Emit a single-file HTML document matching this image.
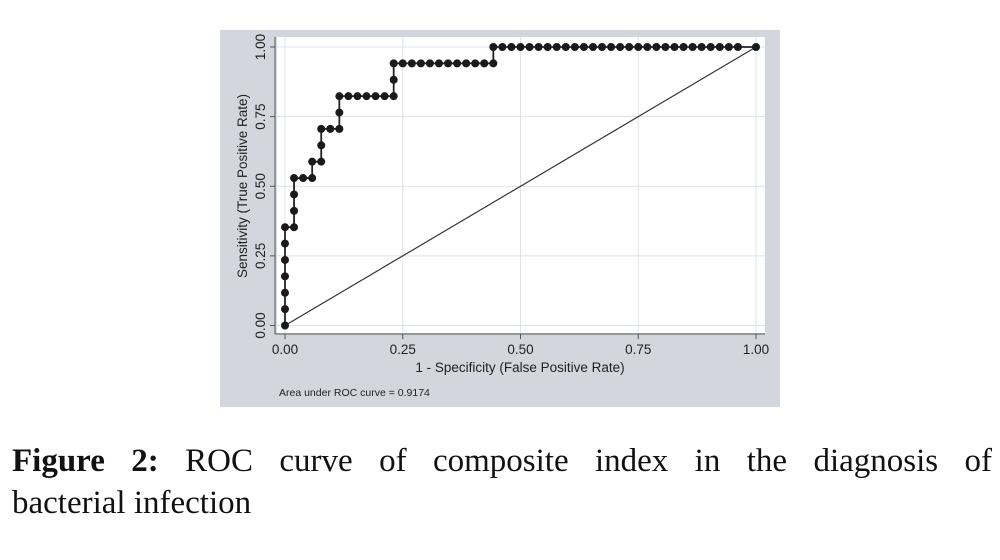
<!DOCTYPE html>
<html><head><meta charset="utf-8"><style>
body{margin:0;background:#fff;width:1000px;height:560px;overflow:hidden;position:relative}
.cap{position:absolute;left:12px;width:980px;font-family:"Liberation Serif",serif;font-size:33px;line-height:42px;color:#111;white-space:nowrap}
#cap1{top:440px;text-align:justify;text-align-last:justify}
#cap2{top:482px}
</style></head><body>
<svg width="1000" height="420" style="position:absolute;left:0;top:0" font-family="Liberation Sans, sans-serif">
<rect x="220" y="30" width="560" height="377" fill="#d3d6dc"/>
<rect x="277" y="37" width="488" height="296" fill="#fff"/>
<g id="grid"></g>
<line x1="275" y1="37" x2="275" y2="334" stroke="#555" stroke-width="1"/>
<line x1="275" y1="334" x2="765" y2="334" stroke="#555" stroke-width="1"/>
<g id="ticks"></g>
<text x="520" y="372" font-size="13.5" text-anchor="middle" fill="#222">1 - Specificity (False Positive Rate)</text>
<text transform="translate(247,186) rotate(-90)" font-size="13.5" text-anchor="middle" fill="#222">Sensitivity (True Positive Rate)</text>
<text x="279" y="396" font-size="10.5" fill="#222">Area under ROC curve = 0.9174</text>
<g id="diag"></g>
<g id="roc"></g>
</svg>
<div id="cap1" class="cap"><b style="font-weight:600">Figure 2:</b> ROC curve of composite index in the diagnosis of</div>
<div id="cap2" class="cap">bacterial infection</div>
<script>
const fpCounts=[0,0,0,0,0,0,0,1,1,1,1,2,3,3,4,4,4,5,6,6,6,7,8,9,10,11,12,12,12,13,14,15,16,17,18,19,20,21,22,23,23,24,25,26,27,28,29,30,31,32,33,34,35,36,37,38,39,40,41,42,43,44,45,46,47,48,49,50,52];
const tpCounts=[0,1,2,3,4,5,6,6,7,8,9,9,9,10,10,11,12,12,12,13,14,14,14,14,14,14,14,15,16,16,16,16,16,16,16,16,16,16,16,16,17,17,17,17,17,17,17,17,17,17,17,17,17,17,17,17,17,17,17,17,17,17,17,17,17,17,17,17,17];
const nNeg=52,nPos=17;
const ticks=[0,0.25,0.5,0.75,1];
const tickLabels=["0.00","0.25","0.50","0.75","1.00"];
const X=v=>285+v*471, Y=v=>325.5-v*278.5;
const NS="http://www.w3.org/2000/svg";
function mk(t,a,p){const e=document.createElementNS(NS,t);for(const k in a)e.setAttribute(k,a[k]);p.appendChild(e);return e;}
const grid=document.getElementById('grid'),tk=document.getElementById('ticks');
ticks.forEach((t,i)=>{
 let g1=mk('line',{x1:X(t),x2:X(t),y1:37,y2:333,stroke:'#dde3ec','stroke-width':1},grid);
 
 
 let g2=mk('line',{x1:277,x2:765,y1:Y(t),y2:Y(t),stroke:'#dde3ec','stroke-width':1},grid);
 
 
 let a=mk('line',{x1:X(t),x2:X(t),y1:334,y2:339,stroke:'#555'},tk);
 
 
 let b=mk('line',{x1:270,x2:275,y1:Y(t),y2:Y(t),stroke:'#555'},tk);
 
 
 let tx=mk('text',{x:X(t),y:354,'font-size':13.5,'text-anchor':'middle',fill:'#222'},tk);tx.textContent=tickLabels[i];
 
 
 let ty=mk('text',{transform:`translate(265,${Y(t)}) rotate(-90)`,'font-size':13.5,'text-anchor':'middle',fill:'#222'},tk);ty.textContent=tickLabels[i];
 
 
});
const d=mk('line',{x1:X(0),y1:Y(0),x2:X(1),y2:Y(1),stroke:'#333','stroke-width':1.2},document.getElementById('diag'));


const roc=document.getElementById('roc');
let pts=fpCounts.map((f,i)=>[X(f/nNeg),Y(tpCounts[i]/nPos)]);
let dstr='M'+pts.map(p=>p.join(',')).join(' L');
const pl=mk('path',{d:dstr,fill:'none',stroke:'#222','stroke-width':1.8},roc);


pts.forEach(p=>{const c=mk('circle',{cx:p[0],cy:p[1],r:4,fill:'#1a1a1a'},roc);
 
 });
</script>
</body></html>
